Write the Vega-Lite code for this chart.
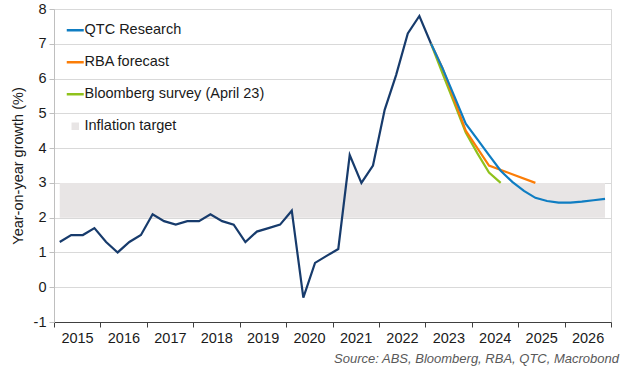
{
  "$schema": "https://vega.github.io/schema/vega-lite/v6.json",
  "width": 557,
  "height": 313,
  "autosize": {"type": "none"},
  "padding": {"left": 54, "top": 9, "right": 19, "bottom": 58},
  "config": {
    "font": "Liberation Sans",
    "view": {"stroke": "#d9d9d9", "strokeWidth": 1},
    "axis": {"labelFont": "Liberation Sans", "titleFont": "Liberation Sans"},
    "axisY": {
      "titleFontSize": 14.5,
      "titleFontWeight": "normal",
      "titleColor": "#1a1a1a",
      "titlePadding": 8,
      "labelFontSize": 14.5,
      "labelColor": "#1a1a1a",
      "labelPadding": 3,
      "labelOverlap": false,
      "tickSize": 5,
      "tickColor": "#bfbfbf",
      "domainColor": "#bfbfbf",
      "gridColor": "#d9d9d9"
    }
  },
  "title": {
    "text": "Source: ABS, Bloomberg, RBA, QTC, Macrobond",
    "orient": "bottom",
    "anchor": "end",
    "fontStyle": "italic",
    "fontWeight": "normal",
    "fontSize": 13,
    "color": "#595959",
    "offset": 8,
    "dx": -15
  },
  "datasets": {
    "history": [
      {"date": "2015-02-15", "value": 1.3}, {"date": "2015-05-16", "value": 1.5}, {"date": "2015-08-16", "value": 1.5}, {"date": "2015-11-15", "value": 1.7},
      {"date": "2016-02-15", "value": 1.3}, {"date": "2016-05-16", "value": 1.0}, {"date": "2016-08-16", "value": 1.3}, {"date": "2016-11-15", "value": 1.5},
      {"date": "2017-02-15", "value": 2.1}, {"date": "2017-05-16", "value": 1.9}, {"date": "2017-08-16", "value": 1.8}, {"date": "2017-11-15", "value": 1.9},
      {"date": "2018-02-15", "value": 1.9}, {"date": "2018-05-16", "value": 2.1}, {"date": "2018-08-16", "value": 1.9}, {"date": "2018-11-15", "value": 1.8},
      {"date": "2019-02-15", "value": 1.3}, {"date": "2019-05-16", "value": 1.6}, {"date": "2019-08-16", "value": 1.7}, {"date": "2019-11-15", "value": 1.8},
      {"date": "2020-02-15", "value": 2.2}, {"date": "2020-05-16", "value": -0.3}, {"date": "2020-08-16", "value": 0.7}, {"date": "2020-11-15", "value": 0.9},
      {"date": "2021-02-15", "value": 1.1}, {"date": "2021-05-16", "value": 3.8}, {"date": "2021-08-16", "value": 3.0}, {"date": "2021-11-15", "value": 3.5},
      {"date": "2022-02-15", "value": 5.1}, {"date": "2022-05-16", "value": 6.1}, {"date": "2022-08-16", "value": 7.3}, {"date": "2022-11-15", "value": 7.8},
      {"date": "2023-02-15", "value": 7.0}
    ],
    "forecasts": [
      {"series": "Bloomberg survey (April 23)", "date": "2023-02-15", "value": 7.0},
      {"series": "Bloomberg survey (April 23)", "date": "2023-05-16", "value": 6.15},
      {"series": "Bloomberg survey (April 23)", "date": "2023-08-16", "value": 5.3},
      {"series": "Bloomberg survey (April 23)", "date": "2023-11-15", "value": 4.45},
      {"series": "Bloomberg survey (April 23)", "date": "2024-02-15", "value": 3.85},
      {"series": "Bloomberg survey (April 23)", "date": "2024-05-16", "value": 3.3},
      {"series": "Bloomberg survey (April 23)", "date": "2024-08-16", "value": 3.0},
      {"series": "RBA forecast", "date": "2023-02-15", "value": 7.0},
      {"series": "RBA forecast", "date": "2023-05-16", "value": 6.3},
      {"series": "RBA forecast", "date": "2023-11-15", "value": 4.5},
      {"series": "RBA forecast", "date": "2024-05-16", "value": 3.5},
      {"series": "RBA forecast", "date": "2024-11-15", "value": 3.25},
      {"series": "RBA forecast", "date": "2025-05-16", "value": 3.0},
      {"series": "QTC Research", "date": "2023-02-15", "value": 7.0},
      {"series": "QTC Research", "date": "2023-05-16", "value": 6.3},
      {"series": "QTC Research", "date": "2023-08-16", "value": 5.5},
      {"series": "QTC Research", "date": "2023-11-15", "value": 4.7},
      {"series": "QTC Research", "date": "2024-02-15", "value": 4.25},
      {"series": "QTC Research", "date": "2024-05-16", "value": 3.8},
      {"series": "QTC Research", "date": "2024-08-16", "value": 3.35},
      {"series": "QTC Research", "date": "2024-11-15", "value": 3.03},
      {"series": "QTC Research", "date": "2025-02-15", "value": 2.77},
      {"series": "QTC Research", "date": "2025-05-16", "value": 2.57},
      {"series": "QTC Research", "date": "2025-08-16", "value": 2.48},
      {"series": "QTC Research", "date": "2025-11-15", "value": 2.43},
      {"series": "QTC Research", "date": "2026-02-15", "value": 2.43},
      {"series": "QTC Research", "date": "2026-05-16", "value": 2.46},
      {"series": "QTC Research", "date": "2026-08-16", "value": 2.5},
      {"series": "QTC Research", "date": "2026-11-15", "value": 2.54}
    ],
    "target": [
      {"date": "2015-02-15", "low": 2, "high": 3},
      {"date": "2026-11-15", "low": 2, "high": 3}
    ]
  },
  "encoding": {
    "x": {
      "field": "date",
      "type": "temporal",
      "scale": {"type": "utc", "domain": [{"year": 2015, "month": 1, "date": 1, "utc": true}, {"year": 2027, "month": 1, "date": 1, "utc": true}]},
      "axis": {
        "title": null,
        "tickCount": {"interval": "year", "step": 1},
        "labelExpr": "utcFormat(datum.value, '%Y') == '2027' ? '' : utcFormat(datum.value, '%Y')",
        "labelOffset": 23,
        "labelAlign": "center",
        "labelFontSize": 14.5,
        "labelColor": "#1a1a1a",
        "labelPadding": 4,
        "tickSize": 5,
        "tickColor": "#404040",
        "domainColor": "#404040",
        "grid": false,
        "labelOverlap": false,
        "labelFlush": false
      }
    }
  },
  "layer": [
    {
      "data": {"name": "target"},
      "mark": {"type": "area", "color": "#e8e5e5", "opacity": 1},
      "encoding": {
        "y": {
          "field": "low",
          "type": "quantitative",
          "scale": {"domain": [-1, 8], "nice": false},
          "axis": {"title": "Year-on-year growth (%)", "values": [-1, 0, 1, 2, 3, 4, 5, 6, 7, 8], "tickCount": 20, "labelExpr": "'' + datum.value"}
        },
        "y2": {"field": "high"},
        "color": {"datum": "Inflation target"}
      }
    },
    {
      "data": {"name": "history"},
      "mark": {"type": "line", "color": "#173b6c", "strokeWidth": 2.2},
      "encoding": {
        "y": {
          "field": "value",
          "type": "quantitative",
          "axis": {"title": "Year-on-year growth (%)", "values": [-1, 0, 1, 2, 3, 4, 5, 6, 7, 8], "tickCount": 20, "labelExpr": "'' + datum.value"}
        }
      }
    },
    {
      "data": {"name": "forecasts"},
      "mark": {"type": "line", "strokeWidth": 2.2},
      "encoding": {
        "y": {
          "field": "value",
          "type": "quantitative",
          "axis": {"title": "Year-on-year growth (%)", "values": [-1, 0, 1, 2, 3, 4, 5, 6, 7, 8], "tickCount": 20, "labelExpr": "'' + datum.value"}
        },
        "color": {
          "field": "series",
          "type": "nominal",
          "scale": {
            "domain": ["QTC Research", "RBA forecast", "Bloomberg survey (April 23)", "Inflation target"],
            "range": ["#0f7dc2", "#fb7d07", "#8fc21c", "#e8e5e5"]
          },
          "legend": {
            "title": null,
            "orient": "none",
            "legendX": 14,
            "legendY": 14,
            "direction": "vertical",
            "padding": 0,
            "rowPadding": 17,
            "labelFontSize": 14.5,
            "labelColor": "#1a1a1a",
            "labelOffset": 2,
            "labelLimit": 400,
            "symbolType": "stroke",
            "symbolSize": 289,
            "symbolStrokeWidth": 2.5,
            "encode": {
              "symbols": {
                "update": {
                  "shape": {"signal": "datum.value === 'Inflation target' ? 'square' : 'stroke'"},
                  "size": {"signal": "datum.value === 'Inflation target' ? 56 : 289"},
                  "fill": {"signal": "datum.value === 'Inflation target' ? '#e8e5e5' : 'transparent'"},
                  "strokeWidth": {"signal": "datum.value === 'Inflation target' ? 0 : 2.5"}
                }
              }
            }
          }
        }
      }
    }
  ]
}
